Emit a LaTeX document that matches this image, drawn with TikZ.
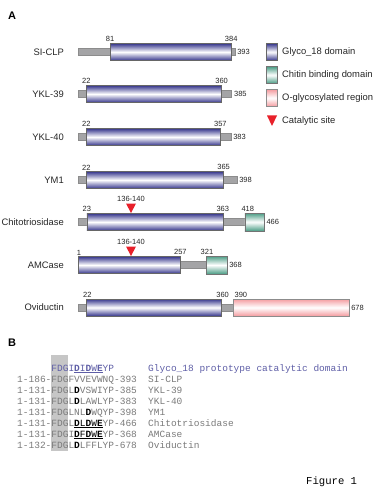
\documentclass[tikz,border=0pt]{standalone}
\usepackage{fontspec}
\setmainfont{Liberation Sans}
\setmonofont{Liberation Mono}
\usetikzlibrary{positioning}
\definecolor{glyBlue}{HTML}{36368C}
\definecolor{glyStub}{HTML}{A4A4A6}
\definecolor{glyGreen}{HTML}{4A9C84}
\definecolor{glyPink}{HTML}{F49CA0}
\definecolor{glyRed}{HTML}{E8202A}
\definecolor{glyText}{HTML}{7A7A7A}
\definecolor{glyHead}{HTML}{5E5EA6}
\definecolor{glyShade}{HTML}{C6C6C6}
\tikzset{
  declare function={rx(\r)=78+(\r-1)*0.4;},
  gly domain/.style={draw=black!60, line width=0.5pt, top color=glyBlue, bottom color=glyBlue, middle color=white},
  gly chitin/.style={draw=black!55, line width=0.5pt, top color=glyGreen, bottom color=glyGreen, middle color=white},
  gly oglyc/.style={draw=black!45, line width=0.5pt, top color=glyPink, bottom color=glyPink, middle color=white},
  gly stub/.style={fill=glyStub, draw=black!45, line width=0.4pt},
  gly site/.style={fill=glyRed},
  gly name/.style={font=\fontsize{9.4}{11}\selectfont, text=black!85, inner sep=0pt},
  gly num/.style={font=\fontsize{7.5}{8}\selectfont, text=black!85, inner sep=0.8pt},
  gly panel/.style={font=\fontsize{11}{13}\selectfont\bfseries, inner sep=0pt},
  gly seq/.style={font=\ttfamily\fontsize{9.5}{11}\selectfont, text=glyText, inner sep=0pt, anchor=base west},
}

\begin{document}
\begin{tikzpicture}[x=1pt, y=-1pt]
  \useasboundingbox (0,0) rectangle (380,489);

  % Panel A: domain architecture
  \node[gly panel] (panelA) at (12,16) {A};

  \foreach \name/\yy/\st/\en/\tot [count=\i] in {SI-CLP/52/81/384/393, YKL-39/94/22/360/385,
      YKL-40/137/22/357/383, YM1/180/22/365/398} {
    \draw[gly stub] ({rx(1)},\yy-3.5) rectangle ({rx(\tot)},\yy+3.5);
    \draw[gly domain] ({rx(\st)},\yy-8.5) rectangle ({rx(\en)},\yy+8.5);
    \node[gly name, anchor=east] (name\i) at (64,\yy) {\name};
    \node[gly num, above=0.5pt] (start\i) at ({rx(\st)},\yy-8.5) {\st};
    \node[gly num, above=0.5pt] (end\i) at ({rx(\en)},\yy-8.5) {\en};
    \node[gly num, anchor=west] (total\i) at ({rx(\tot)+1.5},\yy) {\tot};
  }

  % Chitotriosidase
  \draw[gly stub] ({rx(1)},218.5) rectangle ({rx(418)},225.5);
  \draw[gly domain] ({rx(23)},213.5) rectangle ({rx(363)},230.5);
  \draw[gly chitin] ({rx(418)},213) rectangle ({rx(466)},231);
  \node[gly name, anchor=east] (name5) at (64,222) {Chitotriosidase};
  \node[gly num, above=0.5pt] (start5) at ({rx(23)},213.5) {23};
  \node[gly num, above=0.5pt] (end5) at ({rx(363)},213.5) {363};
  \node[gly num, above=0.5pt] (cbd5) at ({rx(418)+3},213) {418};
  \node[gly num, anchor=west] (total5) at ({rx(466)+1.5},222) {466};
  \fill[gly site] (126,203.5) -- (136,203.5) -- (131,213) -- cycle;
  \node[gly num, above=0.5pt] (site5) at (131,203.5) {136-140};

  % AMCase
  \draw[gly stub] ({rx(257)},261.5) rectangle ({rx(321)},268.5);
  \draw[gly domain] ({rx(1)},256.5) rectangle ({rx(257)},273.5);
  \draw[gly chitin] ({rx(321)},256) rectangle ({rx(368)+2},274);
  \node[gly name, anchor=east] (name6) at (64,265) {AMCase};
  \node[gly num, above=0.5pt] (start6) at ({rx(1)+1},256.5) {1};
  \node[gly num, above=0.5pt] (end6) at ({rx(257)},256.5) {257};
  \node[gly num, above=0.5pt] (cbd6) at ({rx(321)+1},256) {321};
  \node[gly num, anchor=west] (total6) at ({rx(368)+3.5},265) {368};
  \fill[gly site] (126,246.5) -- (136,246.5) -- (131,256) -- cycle;
  \node[gly num, above=0.5pt] (site6) at (131,246.5) {136-140};

  % Oviductin
  \draw[gly stub] ({rx(1)},304) rectangle ({rx(390)},311);
  \draw[gly domain] ({rx(22)},299) rectangle ({rx(360)},316);
  \draw[gly oglyc] ({rx(390)},299) rectangle ({rx(678)},316);
  \node[gly name, anchor=east] (name7) at (64,307.5) {Oviductin};
  \node[gly num, above=0.5pt] (start7) at ({rx(22)+1},299) {22};
  \node[gly num, above=0.5pt, anchor=south] (end7) at ({rx(360)+1},299) {360};
  \node[gly num, above=0.5pt, anchor=south west] (og7) at ({rx(390)},299) {390};
  \node[gly num, anchor=west] (total7) at ({rx(678)+1.5},307.5) {678};

  % Legend
  \draw[gly domain] (266,43.5) rectangle (277,60.5);
  \draw[gly chitin] (266,66.5) rectangle (277,83.5);
  \draw[gly oglyc] (266,89.5) rectangle (277,106.5);
  \fill[gly site] (267,115.5) -- (277,115.5) -- (272,126) -- cycle;
  \node[gly name, anchor=west] (keyGlyco) at (282,52) {Glyco\_18 domain};
  \node[gly name, anchor=west] (keyChitin) at (282,75) {Chitin binding domain};
  \node[gly name, anchor=west] (keyOglyc) at (282,98) {O-glycosylated region};
  \node[gly name, anchor=west] (keySite) at (282,121) {Catalytic site};

  % Panel B: alignment of the catalytic motif
  \node[gly panel] (panelB) at (12,343) {B};
  \fill[glyShade] (51.2,355) rectangle (68.3,451);
  \node[gly seq, text=glyHead] (seqHead) at (51.2,371)
    {FDGI\underline{\textbf{D}I\textbf{D}W\textbf{E}}YP};
  \node[gly seq, text=glyHead] (nameHead) at (148,371) {Glyco\_18 prototype catalytic domain};
  \foreach \seq/\nm [count=\i] in {
      {1-186-FDGFVVEVWNQ-393}/SI-CLP,
      {1-131-FDGL\textbf{\color{black}D}VSWIYP-385}/YKL-39,
      {1-131-FDGL\textbf{\color{black}D}LAWLYP-383}/YKL-40,
      {1-131-FDGLNL\textbf{\color{black}D}WQYP-398}/YM1,
      {1-131-FDGL{\color{black}\underline{\textbf{D}L\textbf{D}W\textbf{E}}}YP-466}/Chitotriosidase,
      {1-131-FDGI{\color{black}\underline{\textbf{D}F\textbf{D}W\textbf{E}}}YP-368}/AMCase,
      {1-132-FDGL\textbf{\color{black}D}LFFLYP-678}/Oviductin} {
    \node[gly seq] (seq\i) at (17,{371+\i*11}) {\seq};
    \node[gly seq] (nm\i) at (148,{371+\i*11}) {\nm};
  }

  \node[gly seq, text=black, font=\ttfamily\fontsize{10.6}{12}\selectfont] (figLabel) at (306,484) {Figure 1};
\end{tikzpicture}
\end{document}
